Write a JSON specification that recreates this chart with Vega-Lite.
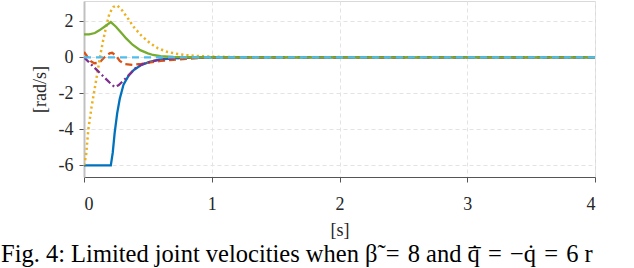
{
  "$schema": "https://vega.github.io/schema/vega-lite/v6.json",
  "autosize": {"type": "none"},
  "padding": {"left": 84, "top": 1, "right": 39, "bottom": 91},
  "width": 511,
  "height": 176,
  "background": "white",
  "config": {
    "view": {"stroke": "#d9d9d9", "strokeWidth": 1},
    "axis": {
      "labelFont": "Liberation Serif",
      "titleFont": "Liberation Serif",
      "labelFontSize": 18,
      "titleFontSize": 18,
      "titleFontWeight": "normal",
      "labelColor": "#262626",
      "titleColor": "#262626",
      "gridColor": "#e3e3e3",
      "gridDash": [4, 3],
      "gridWidth": 1,
      "tickColor": "#555555",
      "tickSize": 5,
      "domainColor": "#555555"
    },
    "title": {"font": "Liberation Serif", "fontSize": 24.5, "fontWeight": "normal", "color": "#000000"}
  },
  "title": {
    "text": "Fig. 4: Limited joint velocities when β̃\u200a = \u200a8 and q̇̅\u200a = \u200a−q̇\u200a = \u200a6 r",
    "orient": "bottom",
    "anchor": "start",
    "frame": "group",
    "dx": -83,
    "offset": 4
  },
  "datasets": {
    "blue": [
      {"t": 0, "v": -6}, {"t": 0.21, "v": -6}, {"t": 0.225, "v": -5.3}, {"t": 0.24, "v": -4.2},
      {"t": 0.26, "v": -3.1}, {"t": 0.28, "v": -2.3}, {"t": 0.31, "v": -1.5}, {"t": 0.35, "v": -1.0},
      {"t": 0.39, "v": -0.7}, {"t": 0.45, "v": -0.42}, {"t": 0.52, "v": -0.24}, {"t": 0.6, "v": -0.12},
      {"t": 0.7, "v": -0.05}, {"t": 0.85, "v": -0.01}, {"t": 1.0, "v": 0}, {"t": 4, "v": 0}
    ],
    "orange": [
      {"t": 0, "v": 0.3}, {"t": 0.02, "v": 0.1}, {"t": 0.05, "v": -0.2}, {"t": 0.08, "v": -0.33},
      {"t": 0.12, "v": -0.3}, {"t": 0.16, "v": 0.0}, {"t": 0.2, "v": 0.22}, {"t": 0.22, "v": 0.25},
      {"t": 0.25, "v": 0.1}, {"t": 0.28, "v": -0.2}, {"t": 0.32, "v": -0.38}, {"t": 0.38, "v": -0.42},
      {"t": 0.45, "v": -0.36}, {"t": 0.52, "v": -0.28}, {"t": 0.6, "v": -0.2}, {"t": 0.7, "v": -0.14},
      {"t": 0.8, "v": -0.08}, {"t": 0.9, "v": -0.04}, {"t": 1.0, "v": -0.02}, {"t": 1.2, "v": 0}, {"t": 4, "v": 0}
    ],
    "yellow": [
      {"t": 0, "v": -6}, {"t": 0.016, "v": -5.47}, {"t": 0.034, "v": -4}, {"t": 0.06, "v": -2.72},
      {"t": 0.1, "v": -1.07}, {"t": 0.13, "v": 0.2}, {"t": 0.15, "v": 0.95}, {"t": 0.18, "v": 1.9},
      {"t": 0.2, "v": 2.45}, {"t": 0.23, "v": 2.8}, {"t": 0.26, "v": 2.88}, {"t": 0.3, "v": 2.6},
      {"t": 0.35, "v": 2.1}, {"t": 0.39, "v": 1.68}, {"t": 0.45, "v": 1.2}, {"t": 0.52, "v": 0.77},
      {"t": 0.58, "v": 0.5}, {"t": 0.65, "v": 0.31}, {"t": 0.72, "v": 0.2}, {"t": 0.8, "v": 0.12},
      {"t": 0.9, "v": 0.07}, {"t": 1.0, "v": 0.04}, {"t": 1.2, "v": 0.01}, {"t": 4, "v": 0}
    ],
    "purple": [
      {"t": 0, "v": 0}, {"t": 0.05, "v": -0.35}, {"t": 0.1, "v": -0.7}, {"t": 0.15, "v": -1.05},
      {"t": 0.2, "v": -1.4}, {"t": 0.24, "v": -1.65}, {"t": 0.27, "v": -1.55}, {"t": 0.3, "v": -1.35},
      {"t": 0.33, "v": -1.15}, {"t": 0.37, "v": -0.85}, {"t": 0.41, "v": -0.55}, {"t": 0.46, "v": -0.38},
      {"t": 0.52, "v": -0.24}, {"t": 0.6, "v": -0.12}, {"t": 0.7, "v": -0.05}, {"t": 0.8, "v": -0.02},
      {"t": 1.0, "v": 0}, {"t": 4, "v": 0}
    ],
    "green": [
      {"t": 0, "v": 1.27}, {"t": 0.04, "v": 1.28}, {"t": 0.085, "v": 1.35}, {"t": 0.12, "v": 1.5},
      {"t": 0.16, "v": 1.7}, {"t": 0.21, "v": 1.96}, {"t": 0.25, "v": 1.7}, {"t": 0.3, "v": 1.3},
      {"t": 0.33, "v": 1.05}, {"t": 0.38, "v": 0.7}, {"t": 0.44, "v": 0.4}, {"t": 0.5, "v": 0.22},
      {"t": 0.54, "v": 0.13}, {"t": 0.6, "v": 0.06}, {"t": 0.7, "v": 0.02}, {"t": 0.8, "v": 0.005},
      {"t": 1.0, "v": 0}, {"t": 4, "v": 0}
    ],
    "cyan": [
      {"t": 0, "v": 0}, {"t": 4, "v": 0}
    ]
  },
  "encoding": {
    "x": {
      "field": "t", "type": "quantitative",
      "scale": {"domain": [0, 4], "nice": false, "zero": false},
      "axis": {"title": "[s]", "values": [0, 1, 2, 3, 4], "labelFont": "Liberation Serif", "titleFont": "Liberation Serif", "labelPadding": 13, "titlePadding": 8, "domainWidth": 1.2}
    },
    "y": {
      "field": "v", "type": "quantitative",
      "scale": {"domain": [-6.65, 3.13], "nice": false, "zero": false},
      "axis": {
        "title": "[rad/s]", "values": [-6, -4, -2, 0, 2],
        "labelFont": "Liberation Serif", "titleFont": "Liberation Serif",
        "labelExpr": "datum.value < 0 ? '-' + abs(datum.value) : '' + datum.value",
        "labelPadding": 6, "titlePadding": 9,
        "domainColor": "#c0c0c0", "domainWidth": 2
      }
    }
  },
  "layer": [
    {"data": {"name": "blue"}, "mark": {"type": "line", "color": "#0072BD", "strokeWidth": 2.3, "clip": true}},
    {"data": {"name": "orange"}, "mark": {"type": "line", "color": "#D95319", "strokeWidth": 2.3, "strokeDash": [7, 4], "clip": true}},
    {"data": {"name": "yellow"}, "mark": {"type": "line", "color": "#EDB120", "strokeWidth": 2.5, "strokeDash": [2.2, 3], "clip": true}},
    {"data": {"name": "purple"}, "mark": {"type": "line", "color": "#7E2F8E", "strokeWidth": 2.3, "strokeDash": [7, 3, 2, 3], "clip": true}},
    {"data": {"name": "green"}, "mark": {"type": "line", "color": "#77AC30", "strokeWidth": 2.3, "clip": true}},
    {"data": {"name": "cyan"}, "mark": {"type": "line", "color": "#4DBEEE", "strokeWidth": 2.3, "strokeDash": [7, 5], "clip": true}}
  ]
}
